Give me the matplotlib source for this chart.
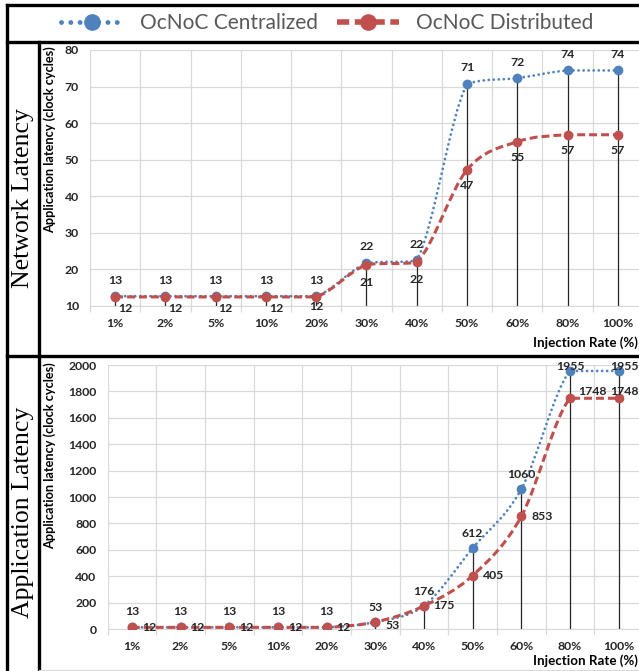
import matplotlib
matplotlib.use("Agg")
import matplotlib.pyplot as plt
from matplotlib.lines import Line2D
from matplotlib.patches import PathPatch
from matplotlib.path import Path

# data
rates = ["1%", "2%", "5%", "10%", "20%", "30%", "40%", "50%", "60%", "80%", "100%"]
net_central = [12.6, 12.6, 12.6, 12.6, 12.6, 21.6, 22.4, 70.7, 72.3, 74.4, 74.4]
net_distrib = [12.4, 12.4, 12.4, 12.4, 12.4, 21.2, 21.9, 47.2, 54.9, 56.8, 56.8]
app_central = [12.6, 12.6, 12.6, 12.6, 12.6, 53, 176, 612, 1060, 1955, 1955]
app_distrib = [12.4, 12.4, 12.4, 12.4, 12.4, 53, 175, 405, 853, 1748, 1748]

BLUE = "#4F81BD"
RED = "#C0504D"
GRID = "#D9D9D9"
FONT = "Lato"
LBL = 8.8

W, H = 639, 671
fig = plt.figure(figsize=(W / 100, H / 100), dpi=100)


def fx(px):
    return px / W


def fy(py):
    return 1 - py / H


def smooth_path(x, y):
    # excel-like smoothed line: bezier segments, controls kept inside each segment
    verts = [(x[0], y[0])]
    codes = [Path.MOVETO]
    n = len(x)
    for i in range(n - 1):
        a = max(i - 1, 0)
        b = min(i + 2, n - 1)
        lo, hi = min(y[i], y[i + 1]), max(y[i], y[i + 1])
        c1y = min(max(y[i] + (y[i + 1] - y[a]) / 6, lo), hi)
        c2y = min(max(y[i + 1] - (y[b] - y[i]) / 6, lo), hi)
        c1 = (x[i] + (x[i + 1] - x[a]) / 6, c1y)
        c2 = (x[i + 1] - (x[b] - x[i]) / 6, c2y)
        verts += [c1, c2, (x[i + 1], y[i + 1])]
        codes += [Path.CURVE4] * 3
    return Path(verts, codes)


def draw_panel(ax, central, distrib, ymin, ymax, step):
    x = list(range(len(rates)))
    ax.set_xlim(-0.5, len(rates) - 0.5)
    ax.set_ylim(ymin, ymax)
    ax.set_yticks(range(ymin, ymax + 1, step))
    ax.set_xticks(x)
    ax.set_xticks([i - 0.5 for i in range(len(rates) + 1)], minor=True)
    ax.set_xticklabels(rates)
    ax.grid(True, which="major", axis="y", color=GRID, lw=0.9)
    ax.grid(True, which="minor", axis="x", color=GRID, lw=0.9)
    ax.set_axisbelow(True)
    for s in ["top", "right", "left"]:
        ax.spines[s].set_visible(False)
    ax.spines["bottom"].set_color(GRID)
    ax.tick_params(axis="x", which="major", length=0, pad=8.5)
    ax.tick_params(axis="x", which="minor", length=4, color=GRID, width=0.9)
    ax.tick_params(axis="y", length=0, pad=8)
    for lab in ax.get_xticklabels() + ax.get_yticklabels():
        lab.set_fontfamily(FONT)
        lab.set_fontweight("bold")
        lab.set_fontsize(LBL)
        lab.set_color("#262626")

    tops = [max(c, d) for c, d in zip(central, distrib)]
    ax.vlines(x, ymin, tops, color="#262626", lw=0.9, zorder=2)

    ax.add_patch(PathPatch(smooth_path(x, central), fill=False, edgecolor=BLUE,
                           lw=2.0, linestyle=(0, (0.01, 1.8)), capstyle="round", zorder=3))
    ax.plot(x, central, ls="none", marker="o", ms=6, color=BLUE, zorder=4)
    ax.add_patch(PathPatch(smooth_path(x, distrib), fill=False, edgecolor=RED,
                           lw=2.2, linestyle=(0, (2.6, 1.3)), capstyle="butt", zorder=5))
    ax.plot(x, distrib, ls="none", marker="o", ms=6, color=RED, zorder=6)
    return x


def label(ax, xi, yi, dx, dy, ha="center"):
    ax.annotate(f"{yi:.0f}", (xi, yi), xytext=(dx * 0.72, dy * 0.72), textcoords="offset points",
                ha=ha, va="center", fontsize=LBL, fontweight="bold", family=FONT,
                color="#262626", zorder=8, annotation_clip=False)


# network latency panel
ax1 = fig.add_axes([fx(90), fy(305.7), fx(643 - 90), (305.7 - 50) / H])
x1 = draw_panel(ax1, net_central, net_distrib, 10, 80, 10)
net_low_dx = [10, 10, 10, 10, 0, 0, 0, 0, 0, 0, 0]
net_low_dy = [-12, -12, -12, -12, -10, -18, -17, -16, -16, -16, -16]
for i in x1:
    label(ax1, i, net_central[i], 0, 16 if i != 5 else 17)
    label(ax1, i, net_distrib[i], net_low_dx[i], net_low_dy[i])

# application latency panel
ax2 = fig.add_axes([fx(107.5), fy(629), fx(643 - 107.5), (629 - 365) / H])
x2 = draw_panel(ax2, app_central, app_distrib, 0, 2000, 200)
app_up_dx = [0, 0, 0, 0, 0, 0, 0, 0, 0, 0, 20]
app_up_dy = [16, 16, 16, 16, 16, 15, 14, 15, 15, 4, 4]
app_up_ha = ["center"] * 10 + ["right"]
app_r_dx = [10, 10, 10, 10, 10, 10, 9, 10, 10, 8, 20]
app_r_dy = [0, 0, 0, 0, 0, -3, 0, 0, 0, 7, 7]
app_r_ha = ["left"] * 10 + ["right"]
for i in x2:
    label(ax2, i, app_central[i], app_up_dx[i], app_up_dy[i], app_up_ha[i])
    label(ax2, i, app_distrib[i], app_r_dx[i], app_r_dy[i], app_r_ha[i])

# axis titles
for yc in (140, 456):
    fig.text(fx(50), fy(yc), "Application latency (clock cycles)", rotation=90, ha="center",
             va="center", fontsize=9.2, fontweight="bold", family=FONT, color="#000000")
for yc in (343, 661):
    fig.text(fx(638), fy(yc), "Injection Rate (%)", ha="right", va="center", fontsize=9.6,
             fontweight="bold", family=FONT, color="#000000")

fig.text(fx(23), fy(198), "Network Latency", rotation=90, ha="center", va="center",
         fontsize=18.5, family="Liberation Serif")
fig.text(fx(23), fy(512), "Application Latency", rotation=90, ha="center", va="center",
         fontsize=18.5, family="Liberation Serif")

# legend
handles = [
    Line2D([], [], color=BLUE, lw=3.5, ls=(0, (0.01, 1.9)), dash_capstyle="round",
           marker="o", ms=11),
    Line2D([], [], color=RED, lw=4, ls=(0, (2.2, 1.0)), marker="o", ms=11),
]
leg = fig.legend(handles, ["OcNoC Centralized", "OcNoC Distributed"], loc="center",
                 bbox_to_anchor=(fx(327), fy(23)), ncol=2, frameon=False,
                 handlelength=3.0, handletextpad=0.8, columnspacing=0.9,
                 prop={"family": FONT, "size": 15})
for t in leg.get_texts():
    t.set_color("#595959")

# table borders
bw = 2.4
for xs, ys in [
    ((7, 639), (5, 5)),
    ((7, 7), (5, 671)),
    ((7, 639), (42, 42)),
    ((7, 639), (356, 356)),
    ((39, 39), (42, 671)),
]:
    fig.add_artist(Line2D([fx(v) for v in xs], [fy(v) for v in ys], color="black", lw=bw,
                          transform=fig.transFigure))
fig.add_artist(Line2D([fx(39), fx(639)], [fy(670), fy(670)], color=GRID, lw=0.8,
                      transform=fig.transFigure))

fig.savefig("out.png", dpi=100)
